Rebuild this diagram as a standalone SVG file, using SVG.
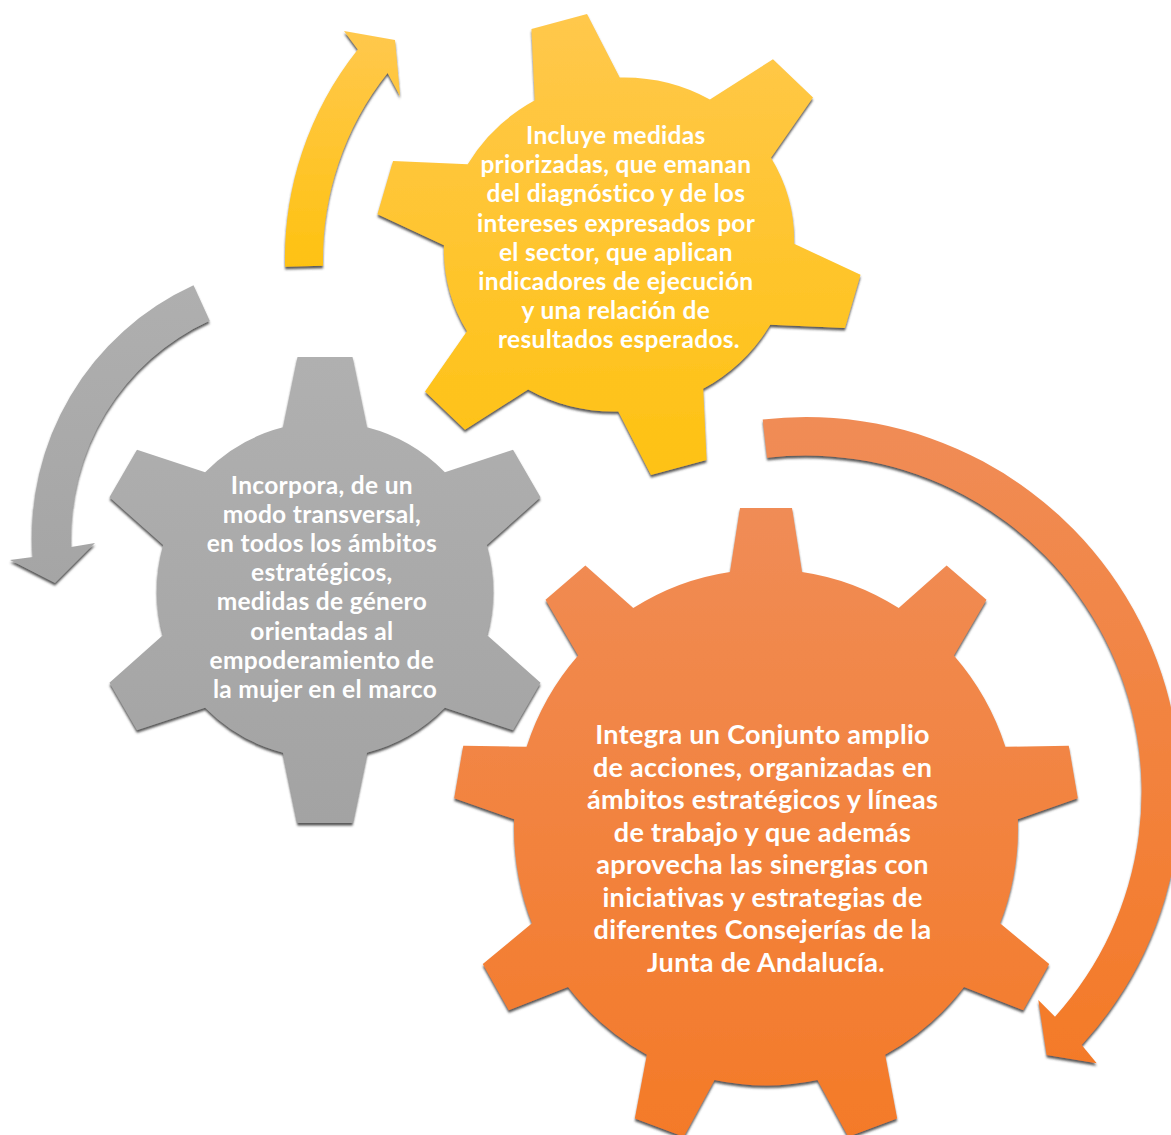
<svg xmlns="http://www.w3.org/2000/svg" xmlns:xlink="http://www.w3.org/1999/xlink" width="1171" height="1135" viewBox="0 0 1171 1135">
<style>
.t{font-family:Lato,"Liberation Sans",sans-serif;font-weight:700;fill:#ffffff;text-anchor:middle;letter-spacing:0.3px}
.s{font-size:24.5px}
.l{font-size:27px}
</style>
<defs>
<filter id="sh" x="-10%" y="-10%" width="120%" height="125%">
<feDropShadow dx="0" dy="2.6" stdDeviation="0.8" flood-color="#3a3a3a" flood-opacity="0.85"/>
</filter>
<linearGradient id="gGray" x1="0" y1="0" x2="0" y2="1"><stop offset="0" stop-color="#b0b0b0"/><stop offset="1" stop-color="#a3a3a3"/></linearGradient>
<linearGradient id="gYel" gradientUnits="userSpaceOnUse" x1="57.6" y1="-227" x2="-57.6" y2="227"><stop offset="0" stop-color="#ffc84c"/><stop offset="1" stop-color="#fec212"/></linearGradient>
<linearGradient id="gOra" x1="0" y1="0" x2="0" y2="1"><stop offset="0" stop-color="#f08c56"/><stop offset="1" stop-color="#f47a28"/></linearGradient>
<linearGradient id="aYel" x1="0" y1="0" x2="0" y2="1"><stop offset="0" stop-color="#ffc84d"/><stop offset="1" stop-color="#fec211"/></linearGradient>
<linearGradient id="aGray" x1="0" y1="0" x2="0" y2="1"><stop offset="0" stop-color="#afafaf"/><stop offset="1" stop-color="#a5a5a5"/></linearGradient>
<linearGradient id="aOra" x1="0" y1="0" x2="0" y2="1"><stop offset="0" stop-color="#f08c56"/><stop offset="1" stop-color="#f47a28"/></linearGradient>
<path id="gear6" d="M-42,-162.66 L-27.5,-233 L27.5,-233 L42,-162.66 A168,168 0 0 1 119.86,-117.70 L188.03,-140.32 L215.53,-92.68 L161.86,-44.96 A168,168 0 0 1 161.86,44.96 L215.53,92.68 L188.03,140.32 L119.86,117.70 A168,168 0 0 1 42,162.66 L27.5,233 L-27.5,233 L-42,162.66 A168,168 0 0 1 -119.86,117.70 L-188.03,140.32 L-215.53,92.68 L-161.86,44.96 A168,168 0 0 1 -161.86,-44.96 L-215.53,-92.68 L-188.03,-140.32 L-119.86,-117.70 A168,168 0 0 1 -42,-162.66 Z"/>
<path id="gear9" d="M-36,-249.4 L-26,-312 L26,-312 L36,-249.4 A252,252 0 0 1 132.73,-214.18 L180.63,-255.71 L220.47,-222.29 L187.89,-167.90 A252,252 0 0 1 239.36,-78.75 L302.75,-79.76 L311.77,-28.56 L251.86,-7.85 A252,252 0 0 1 233.98,93.52 L283.19,133.48 L257.19,178.52 L197.98,155.88 A252,252 0 0 1 119.12,222.05 L131.13,284.30 L82.27,302.08 L51.46,246.67 A252,252 0 0 1 -51.46,246.67 L-82.27,302.08 L-131.13,284.30 L-119.12,222.05 A252,252 0 0 1 -197.98,155.88 L-257.19,178.52 L-283.19,133.48 L-233.98,93.52 A252,252 0 0 1 -251.86,-7.85 L-311.77,-28.56 L-302.75,-79.76 L-239.36,-78.75 A252,252 0 0 1 -187.89,-167.90 L-220.47,-222.29 L-180.63,-255.71 L-132.73,-214.18 A252,252 0 0 1 -36,-249.4 Z"/>
</defs>

<g id="connectors" filter="url(#sh)">
<path id="arrow-yellow" fill="url(#aYel)" d="M285.1,266.8 A335,335 0 0 1 357.8,49.5 L344,31 L395,40 L400,96 L387.6,73.1 A297,297 0 0 0 323.1,265.8 Z"/>
<path id="arrow-gray" fill="url(#aGray)" d="M193.5,285.3 A276,276 0 0 0 32.8,557 L10,560 L55,583 L95,543 L71.2,547 A237,237 0 0 1 209.7,320.8 Z"/>
<path id="arrow-orange" fill="url(#aOra)" d="M762.7,419.5 A374.5,374.5 0 0 1 1081.7,1045 L1096.7,1063.3 L1046.7,1055 L1038.3,1000 L1055,1016.7 A336,336 0 0 0 767.1,457.7 Z"/>
</g>

<g id="gear-yellow">
<g filter="url(#sh)"><use xlink:href="#gear6" href="#gear6" fill="url(#gYel)" transform="translate(619,244.5) rotate(-15) scale(1.046,0.991)"/></g>
<text class="t s" x="619">
<tspan x="619" y="144">Incluye medidas</tspan>
<tspan x="619" y="173.2">priorizadas, que emanan</tspan>
<tspan x="619" y="202.4">del diagnóstico y de los</tspan>
<tspan x="619" y="231.6">intereses expresados por</tspan>
<tspan x="619" y="260.8">el sector, que aplican</tspan>
<tspan x="619" y="290">indicadores de ejecución</tspan>
<tspan x="619" y="319.2">y una relación de</tspan>
<tspan x="619" y="348.4">resultados esperados.</tspan>
</text>
</g>

<g id="gear-gray">
<g filter="url(#sh)"><use xlink:href="#gear6" href="#gear6" fill="url(#gGray)" transform="translate(325,590)"/></g>
<text class="t s" x="325">
<tspan x="325" y="493.6">Incorpora, de un</tspan>
<tspan x="325" y="522.8">modo transversal,</tspan>
<tspan x="325" y="552">en todos los ámbitos</tspan>
<tspan x="325" y="581.2">estratégicos,</tspan>
<tspan x="325" y="610.4">medidas de género</tspan>
<tspan x="325" y="639.6">orientadas al</tspan>
<tspan x="325" y="668.8">empoderamiento de</tspan>
<tspan x="325" y="698">la mujer en el marco</tspan>
</text>
</g>

<g id="gear-orange">
<g filter="url(#sh)"><use xlink:href="#gear9" href="#gear9" fill="url(#gOra)" transform="translate(766,827.4) scale(1,1.024)"/></g>
<text class="t l" x="766">
<tspan x="766" y="744">Integra un Conjunto amplio</tspan>
<tspan x="766" y="776.5">de acciones, organizadas en</tspan>
<tspan x="766" y="809">ámbitos estratégicos y líneas</tspan>
<tspan x="766" y="841.5">de trabajo y que además</tspan>
<tspan x="766" y="874">aprovecha las sinergias con</tspan>
<tspan x="766" y="906.5">iniciativas y estrategias de</tspan>
<tspan x="766" y="939">diferentes Consejerías de la</tspan>
<tspan x="766" y="971.5">Junta de Andalucía.</tspan>
</text>
</g>
</svg>
